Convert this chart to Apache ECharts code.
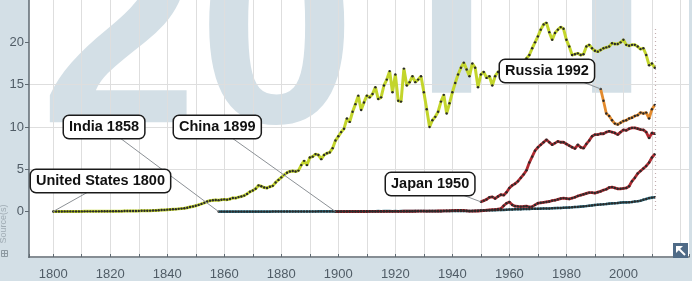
<!DOCTYPE html>
<html><head><meta charset="utf-8">
<script src="https://cdn.jsdelivr.net/npm/echarts@6/dist/echarts.min.js"></script>
<style>html,body{margin:0;padding:0;background:#d3dfe6}#c{width:692px;height:281px}</style>
</head><body><div id="c"></div>
<script>
// ---- data (CO2 emissions per person, tonnes) ----
const usStart = 1800;
const usValues = [
0.02,0.02,0.02,0.02,0.03,0.03,0.03,0.03,0.03,0.03,
0.03,0.04,0.04,0.04,0.04,0.04,0.04,0.05,0.05,0.05,
0.05,0.05,0.06,0.06,0.06,0.07,0.07,0.07,0.08,0.08,
0.09,0.1,0.1,0.11,0.12,0.13,0.15,0.17,0.19,0.21,
0.24,0.26,0.28,0.3,0.33,0.36,0.4,0.46,0.55,0.62,
0.7,0.8,0.92,1.05,1.2,1.3,1.35,1.38,1.36,1.4,
1.45,1.42,1.5,1.62,1.6,1.72,1.8,1.9,2.1,2.35,
2.5,2.7,3.1,3.0,2.85,2.8,2.95,3.05,3.45,3.75,
4.05,4.35,4.6,4.75,4.8,4.75,4.85,5.5,6.0,5.5,
6.4,6.5,6.8,6.7,6.2,6.7,6.9,7.0,7.5,8.4,
8.9,9.4,9.8,11.0,10.6,11.8,12.7,13.7,12.0,12.9,
13.7,13.5,13.9,14.7,13.3,13.5,14.9,15.6,16.6,14.1,
16.2,13.1,13.0,16.9,14.9,15.3,16.0,15.3,15.6,16.0,
14.1,12.1,10.0,10.8,11.2,11.8,13.0,13.8,11.6,12.8,
14.1,15.2,16.2,17.0,17.6,16.8,16.0,17.5,17.0,14.7,
16.2,16.5,15.8,16.0,14.9,16.0,16.5,16.6,15.7,16.2,
16.4,16.2,16.7,17.1,17.4,17.6,18.1,18.5,19.3,20.0,
20.7,21.5,22.1,22.3,21.2,20.3,21.1,21.5,21.8,21.6,
20.3,19.5,18.5,18.6,18.7,18.5,18.6,19.5,19.7,19.3,
19.0,18.9,19.1,19.3,19.4,19.5,19.9,19.8,19.8,20.0,
20.3,19.7,19.6,19.7,19.7,19.5,19.2,19.3,18.5,17.3,
17.5,17.0];
const indiaStart = 1858;
const indiaValues = [
0.01,0.01,0.01,0.01,0.01,0.01,0.01,0.01,0.01,0.01,0.01,0.01,
0.01,0.01,0.01,0.01,0.01,0.01,0.01,0.02,0.02,0.02,
0.02,0.02,0.02,0.02,0.02,0.02,0.02,0.02,0.02,0.02,
0.02,0.02,0.02,0.03,0.03,0.03,0.03,0.03,0.03,0.03,
0.03,0.03,0.04,0.04,0.04,0.04,0.04,0.04,0.05,0.05,
0.05,0.05,0.05,0.05,0.06,0.05,0.06,0.06,0.06,0.05,
0.06,0.05,0.06,0.06,0.06,0.06,0.06,0.07,0.07,0.07,
0.07,0.06,0.06,0.06,0.06,0.06,0.06,0.07,0.07,0.07,
0.08,0.08,0.08,0.08,0.08,0.08,0.08,0.08,0.09,0.1,
0.15,0.15,0.16,0.16,0.17,0.18,0.19,0.2,0.21,0.23,
0.25,0.26,0.28,0.29,0.29,0.31,0.32,0.32,0.34,0.34,
0.35,0.36,0.37,0.37,0.38,0.4,0.42,0.43,0.44,0.46,
0.48,0.5,0.52,0.55,0.57,0.6,0.63,0.66,0.7,0.74,
0.78,0.82,0.85,0.87,0.9,0.95,0.98,1.0,1.02,1.07,
1.1,1.1,1.12,1.15,1.2,1.24,1.3,1.4,1.5,1.6,
1.66,1.7];
const chinaStart = 1899;
const chinaValues = [
0.01,0.01,0.01,0.01,0.01,0.02,0.02,0.02,0.02,0.02,0.02,
0.02,0.03,0.03,0.03,0.03,0.03,0.03,0.04,0.04,0.04,
0.04,0.04,0.04,0.05,0.05,0.05,0.05,0.05,0.06,0.06,
0.06,0.06,0.07,0.07,0.07,0.08,0.08,0.09,0.1,0.11,
0.13,0.15,0.16,0.16,0.14,0.1,0.06,0.07,0.08,0.08,
0.1,0.13,0.17,0.2,0.23,0.25,0.3,0.35,0.7,1.0,
1.15,0.8,0.65,0.62,0.6,0.62,0.65,0.55,0.6,0.8,
1.0,1.05,1.1,1.15,1.2,1.3,1.35,1.45,1.55,1.6,
1.55,1.5,1.6,1.7,1.85,1.95,2.05,2.15,2.25,2.25,
2.2,2.3,2.4,2.55,2.65,2.85,2.9,2.8,2.7,2.7,
2.75,2.8,3.0,3.6,4.0,4.5,4.8,5.1,5.4,5.8,
6.4,6.8];
const japanStart = 1950;
const japanValues = [
1.16,1.3,1.45,1.7,1.75,1.55,1.8,2.0,1.95,2.3,
2.8,3.1,3.3,3.6,4.0,4.4,4.9,5.8,6.5,7.2,
7.6,7.9,8.2,8.5,8.2,7.9,8.1,8.3,8.2,8.2,
8.0,7.8,7.6,7.45,7.9,7.6,7.5,8.0,8.4,8.9,
9.1,9.1,9.2,9.2,9.4,9.5,9.4,9.3,9.1,9.4,
9.65,9.6,9.8,9.9,9.9,9.8,9.7,9.65,9.4,8.7,
9.3,9.2];
const russiaStart = 1992;
const russiaValues = [14.5,13.1,11.6,11.3,10.8,10.4,10.3,10.5,10.7,10.8,11.0,11.1,11.3,11.4,11.7,11.6,11.7,11.0,12.1,12.6];

const xLabelYears = [1800,1820,1840,1860,1880,1900,1920,1940,1960,1980,2000];
const yTickValues = [0,5,10,15,20];
const watermarkParts = ['20', '11'];   // year watermark "2011"
const markerYear = 2011;
const callouts = [
  {text:'United States 1800', year:1800, value:usValues[0], box:[31,170], anchor:[88,192]},
  {text:'India 1858', year:1858, value:indiaValues[0], box:[64,116], anchor:[120,138]},
  {text:'China 1899', year:1899, value:chinaValues[0], box:[174,116], anchor:[232,138]},
  {text:'Japan 1950', year:1950, value:japanValues[0], box:[386,173], anchor:[460,194]},
  {text:'Russia 1992', year:1992, value:russiaValues[0], box:[500,60], anchor:[580,81]}
];

const FAMILY = 'Liberation Sans';
const AXIS_COLOR = '#5f6a72';
const LABEL_COLOR = '#505c66';
const GRID_COLOR = '#dedede';
const WM_COLOR = '#d3dfe6';

function mk(start, vals){ return vals.map((v,i)=>[start+i, v]); }
function lineSeries(name, start, vals, color, width){
  return {type:'line', name, data: mk(start, vals), symbol:'circle', symbolSize:2.4,
    showSymbol:true, showAllSymbol:true,
    itemStyle:{color:'#2a2a2a', borderWidth:0},
    lineStyle:{color, width}, emphasis:{disabled:true}, silent:true, z:3, animation:false};
}

const chart = echarts.init(document.getElementById('c'), null, {renderer:'canvas'});

const staticGraphics = [
  {id:'bg', type:'rect', shape:{x:29,y:0,width:660,height:258}, style:{fill:'#ffffff'}, z:-10, silent:true},
  {id:'wm1', type:'text', x:40, y:44, z:-9, silent:true,
    style:{text:watermarkParts[0], fontFamily:FAMILY, fontSize:284, fontWeight:'bold', fill:WM_COLOR, align:'left', verticalAlign:'middle'}},
  {id:'wm2', type:'text', x:362, y:23, z:-9, silent:true,
    style:{text:watermarkParts[1], fontFamily:'Roboto', fontSize:279, fontWeight:'bold', fill:WM_COLOR, align:'left', verticalAlign:'middle'}},
  {id:'yline', type:'line', shape:{x1:29,y1:0,x2:29,y2:258}, style:{stroke:AXIS_COLOR, lineWidth:1.5}, z:8, silent:true},
  {id:'src', type:'text', x:4, y:224, rotation:Math.PI/2, z:8, silent:true,
    style:{text:'Source(s)', fontFamily:FAMILY, fontSize:9, fill:'#9fabb3', align:'center', verticalAlign:'middle'}},
  {id:'tbl', type:'rect', shape:{x:1.5,y:250.5,width:6,height:6}, style:{fill:'none', stroke:'#8e9aa2', lineWidth:1}, z:8, silent:true},
  {id:'tbl2', type:'polyline', shape:{points:[[1.5,253.5],[7.5,253.5]]}, style:{stroke:'#8e9aa2', lineWidth:1}, z:8, silent:true},
  {id:'tbl3', type:'polyline', shape:{points:[[4.5,250.5],[4.5,256.5]]}, style:{stroke:'#8e9aa2', lineWidth:1}, z:8, silent:true},
  {id:'ico', type:'rect', shape:{x:673,y:243,width:15,height:15}, style:{fill:'#4f6b87'}, z:8, silent:true},
  {id:'icoh', type:'polygon', shape:{points:[[676,246],[683,246],[676,253]]}, style:{fill:'#ffffff'}, z:9, silent:true},
  {id:'icos', type:'polyline', shape:{points:[[678.5,248.5],[685,255]]}, style:{stroke:'#ffffff', lineWidth:2}, z:9, silent:true}
];

const option = {
  animation:false,
  backgroundColor:'#d3dfe6',
  grid:{left:29, right:3, top:-4.2, bottom:26, containLabel:false},
  xAxis:{type:'value', min:1791.5, max:2023, splitNumber:23, minInterval:10, maxInterval:10, offset:3, z:1,
    axisLine:{show:true, onZero:false, lineStyle:{color:AXIS_COLOR, width:1.5}},
    axisTick:{show:true, inside:true, length:3, lineStyle:{color:AXIS_COLOR}},
    axisLabel:{color:LABEL_COLOR, fontSize:13, fontFamily:FAMILY, margin:11,
      formatter:v => xLabelYears.indexOf(Math.round(v*10)/10) >= 0 ? String(v) : ''},
    splitLine:{show:true, showMinLine:false, showMaxLine:false, lineStyle:{color:GRID_COLOR, width:1}}},
  yAxis:{type:'value', min:-5, max:25, interval:5, z:1,
    axisLine:{show:false},
    axisTick:{show:true, length:4, customValues:yTickValues, lineStyle:{color:AXIS_COLOR}},
    axisLabel:{color:LABEL_COLOR, fontSize:13, fontFamily:FAMILY, margin:5, customValues:yTickValues,
      formatter:v => yTickValues.indexOf(v) >= 0 ? String(v) : ''},
    splitLine:{show:true, showMinLine:false, showMaxLine:false, lineStyle:{color:GRID_COLOR, width:1}}},
  graphic:{elements: staticGraphics},
  series:[
    lineSeries('India', indiaStart, indiaValues, '#2f6f82', 2.6),
    lineSeries('China', chinaStart, chinaValues, '#b02a31', 2.8),
    lineSeries('Japan', japanStart, japanValues, '#b02a31', 2.8),
    lineSeries('Russia', russiaStart, russiaValues, '#e38b2e', 2.8),
    Object.assign(lineSeries('United States', usStart, usValues, '#c3d52c', 3), {
      markLine:{silent:true, symbol:'none', animation:false, label:{show:false},
        lineStyle:{color:'#c4aeb0', type:[1,3], width:1.2},
        data:[[{coord:[markerYear, 0.2]},{coord:[markerYear, 21.8]}]]}
    })
  ]
};
chart.setOption(option);

const dyn = [];
callouts.forEach((c, i) => {
  const p = chart.convertToPixel({gridIndex:0}, [c.year, c.value]);
  dyn.push({id:'lead'+i, type:'line', z:12, silent:true,
    shape:{x1:p[0], y1:p[1], x2:c.anchor[0], y2:c.anchor[1]},
    style:{stroke:'#8c9196', lineWidth:1}});
  dyn.push({id:'box'+i, type:'text', z:13, silent:true, x:c.box[0], y:c.box[1],
    style:{text:c.text, fontFamily:FAMILY, fontSize:14.5, fontWeight:'bold', fill:'#111', align:'left', verticalAlign:'top',
      backgroundColor:'#ffffff', borderColor:'#1a1a1a', borderWidth:1.5, borderRadius:5,
      padding:[3,5,3,5], lineHeight:16}});
});
chart.setOption({graphic:{elements: staticGraphics.concat(dyn)}});
</script></body></html>
